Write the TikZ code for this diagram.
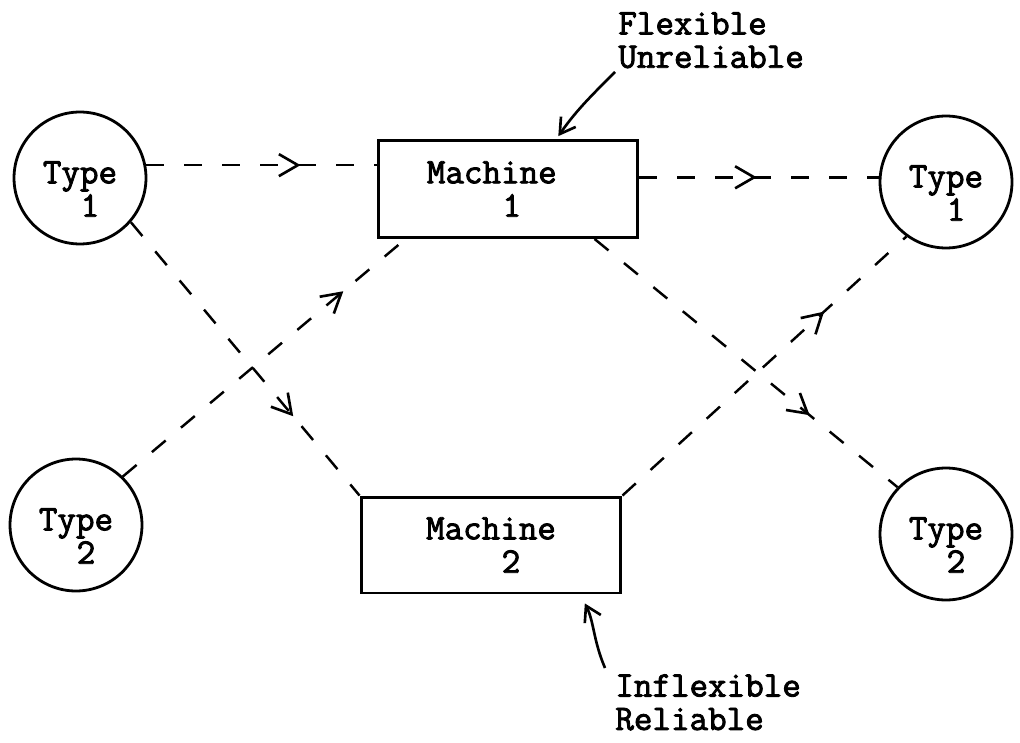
\documentclass[tikz,border=0pt]{standalone}
\usepackage{fontspec}
\setmonofont{Latin Modern Mono}[FakeBold=2.4]
\usetikzlibrary{arrows.meta, decorations.markings}

\begin{document}
\begin{tikzpicture}[
  x=0.02cm, y=0.02cm,
  font=\ttfamily\fontsize{20.5}{19}\selectfont,
  station/.style={circle, draw, line width=1.6pt, minimum size=2.64cm, inner sep=0pt, align=left, text height=1.55cm},
  machine/.style={draw, line width=1.7pt, minimum width=5.2cm, minimum height=1.94cm, align=left},
  flow/.style={line width=1.4pt, dash pattern=on 0.36cm off 0.4cm,
    postaction={decorate, decoration={markings, mark=at position #1 with {\arrow{Straight Barb[length=0.38cm, width=0.44cm, line width=1.5pt]}}}}},
  pointer/.style={line width=1.5pt, -{Straight Barb[length=0.3cm, width=0.36cm]}, shorten >=2pt},
  note/.style={anchor=north west, inner sep=0pt, align=left}
]
\useasboundingbox (0,0) rectangle (1020,-743);

% part types in and out
\node[station] (t1l) at (80,-178) {Type\\\hspace*{1.05em}1};
\node[station] (t2l) at (76,-525) {Type\\\hspace*{1.05em}2};
\node[station] (t1r) at (946,-182) {Type\\\hspace*{1.05em}1};
\node[station] (t2r) at (946,-534) {Type\\\hspace*{1.05em}2};

% the two machines
\node[machine] (m1) at (508,-189) {Machine\hspace*{0.9em}\\\hspace*{2.1em}1};
\node[machine, minimum height=1.92cm] (m2) at (491,-545) {Machine\\\hspace*{2.1em}2};

% routings
\draw[flow=0.67] (t1l.11) -- (t1l.11 -| m1.west);
\draw[flow=0.49] (m1.east |- t1r.176) -- (t1r.176);
\draw[flow=0.71] (t1l.319) -- (m2.north west);
\draw[flow=0.78] (t2l.46) -- (m1.206);
\draw[flow=0.71] (m1.330) -- (t2r.136);
\draw[flow=0.71] (m2.north east) -- (t1r.234);

% notes
\node[note] (flex) at (618,-12) {Flexible\\Unreliable};
\coordinate (flexTail) at (615,-72);
\draw[pointer] (flexTail) to[out=225, in=55] (m1.46);

\node[note] (inflex) at (615,-674) {Inflexible\\Reliable};
\coordinate (inflexTail) at (605,-668);
\draw[pointer, shorten >=0.2cm] (inflexTail) to[out=113, in=297] (m2.331);
\end{tikzpicture}
\end{document}
